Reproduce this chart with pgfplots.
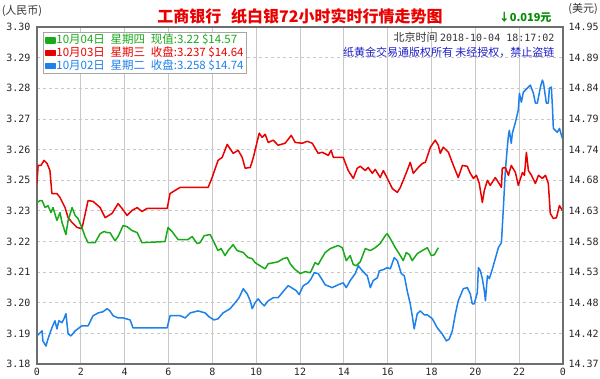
\documentclass[border=0pt]{standalone}
\usepackage{pgfplots}
\pgfplotsset{compat=1.18}
\usepackage{fontspec}
\setmainfont{Noto Sans CJK SC}
\newfontfamily\numfont{DejaVu Sans Mono}
\definecolor{lgreen}{RGB}{25,170,25}
\definecolor{lred}{RGB}{235,0,0}
\definecolor{lblue}{RGB}{30,128,235}
\definecolor{gridgray}{RGB}{200,200,200}
\definecolor{wmblue}{RGB}{30,30,200}
\definecolor{arrgreen}{RGB}{0,140,0}
\definecolor{axgray}{RGB}{110,110,110}
\begin{document}
\begin{tikzpicture}[x=1pt,y=1pt]
\useasboundingbox (0,0) rectangle (600,378);
\fill[white] (0,0) rectangle (600,378);
\begin{axis}[
  at={(37pt,14pt)}, anchor=south west,
  scale only axis, width=526pt, height=337pt,
  xmin=0, xmax=24, ymin=3.18, ymax=3.30,
  xtick={0,2,...,24},
  xticklabels={0,2,4,6,8,10,12,14,16,18,20,22,0},
  ytick={3.18,3.190909,3.201818,3.212727,3.223636,3.234545,3.245455,3.256364,3.267273,3.278182,3.289091,3.30},
  yticklabels={3.18,3.19,3.20,3.21,3.22,3.23,3.25,3.26,3.27,3.28,3.29,3.30},
  grid=major,
  x grid style={color=gridgray, line width=0.8pt},
  y grid style={color=gridgray, dash pattern=on 3pt off 3pt, line width=0.7pt},
  axis line style={color=axgray, line width=1.5pt},
  major tick length=0pt,
  tick style={draw=none},
  ticklabel style={font=\numfont\fontsize{10}{10}\selectfont, text=black!85},
  yticklabel style={xshift=-3pt},
  xticklabel style={yshift=-1pt},
  clip=true,
  reverse legend,
  legend cell align=left,
  legend style={at={(rel axis cs:0.0114,0.985)}, anchor=north west,
    draw=gray!70, fill=white, line width=0.6pt,
    font=\fontsize{11.5}{11.5}\selectfont,
    inner xsep=2pt, inner ysep=1.5pt,
    nodes={inner sep=0.6pt, text height=9pt, text depth=2.6pt},
    row sep=0pt},
  legend image code/.code={\fill (1pt,-2.5pt) rectangle (10pt,2.5pt);},
]
% blue: 10/02
\addplot[color=lblue, line width=1.5pt, line join=round] coordinates {
(0.00,3.1900)(0.14,3.1911)(0.23,3.1918)(0.27,3.1882)(0.41,3.1864)(0.50,3.1889)
(0.68,3.1929)(0.82,3.1954)(0.91,3.1925)(1.00,3.1954)(1.14,3.1947)(1.23,3.1961)
(1.32,3.1979)(1.42,3.1907)(1.55,3.1900)(1.74,3.1918)(2.05,3.1936)(2.33,3.1936)
(2.56,3.1972)(2.79,3.1982)(3.01,3.1986)(3.20,3.1997)(3.33,3.1989)(3.47,3.1972)
(3.70,3.1964)(3.93,3.1964)(4.25,3.1957)(4.38,3.1929)(5.94,3.1929)(6.07,3.1972)
(6.53,3.1972)(6.76,3.1964)(6.99,3.1982)(7.35,3.1989)(7.67,3.1982)(7.85,3.1968)
(8.08,3.1957)(8.26,3.1961)(8.49,3.1982)(8.81,3.1997)(9.04,3.2018)(9.22,3.2036)
(9.41,3.2068)(9.59,3.2050)(9.73,3.2025)(9.82,3.1997)(9.95,3.2018)(10.09,3.2032)
(10.23,3.2018)(10.37,3.2007)(10.55,3.2025)(10.78,3.2036)(11.00,3.2036)(11.19,3.2054)
(11.46,3.2079)(11.69,3.2068)(11.83,3.2061)(11.96,3.2047)(12.15,3.2079)(12.37,3.2089)
(12.51,3.2104)(12.65,3.2125)(12.83,3.2122)(13.01,3.2100)(13.15,3.2082)(13.47,3.2072)
(13.74,3.2082)(13.97,3.2089)(14.11,3.2072)(14.29,3.2097)(14.52,3.2122)(14.66,3.2150)
(14.84,3.2132)(15.07,3.2114)(15.21,3.2072)(15.34,3.2097)(15.53,3.2107)(15.62,3.2132)
(15.80,3.2136)(15.98,3.2143)(16.12,3.2139)(16.30,3.2179)(16.44,3.2168)(16.62,3.2122)
(16.76,3.2114)(16.89,3.2061)(17.03,3.2014)(17.12,3.1972)(17.21,3.1925)(17.35,3.1979)
(17.49,3.1989)(17.67,3.1975)(17.81,3.1975)(18.04,3.1961)(18.26,3.1929)(18.49,3.1907)
(18.68,3.1882)(18.81,3.1889)(18.95,3.1918)(19.09,3.1979)(19.22,3.2025)(19.45,3.2068)
(19.63,3.2072)(19.77,3.2050)(19.86,3.2014)(19.95,3.2014)(20.09,3.2054)(20.14,3.2143)
(20.23,3.2132)(20.32,3.2104)(20.41,3.2061)(20.46,3.2025)(20.55,3.2114)(20.64,3.2104)
(20.78,3.2139)(20.91,3.2175)(21.05,3.2214)(21.19,3.2232)(21.28,3.2357)(21.37,3.2489)
(21.46,3.2572)(21.51,3.2614)(21.55,3.2632)(21.64,3.2586)(21.69,3.2622)(21.83,3.2661)
(21.96,3.2704)(22.01,3.2764)(22.10,3.2732)(22.19,3.2768)(22.37,3.2782)(22.51,3.2793)
(22.65,3.2764)(22.74,3.2729)(22.83,3.2729)(22.97,3.2786)(23.06,3.2811)(23.11,3.2800)
(23.24,3.2729)(23.33,3.2729)(23.38,3.2782)(23.47,3.2786)(23.52,3.2711)(23.56,3.2639)
(23.74,3.2625)(23.84,3.2639)(23.93,3.2614)(24.00,3.2597)
};
\addlegendentry{\textcolor{lblue}{10月02日\enspace 星期二\enspace 收盘:3.258 \$14.74}}
% red: 10/03
\addplot[color=lred, line width=1.5pt, line join=round] coordinates {
(0.00,3.2443)(0.05,3.2507)(0.18,3.2507)(0.32,3.2525)(0.46,3.2514)(0.59,3.2489)
(0.68,3.2407)(0.91,3.2407)(1.05,3.2393)(1.28,3.2357)(1.42,3.2321)(1.60,3.2304)
(1.83,3.2286)(2.05,3.2282)(2.33,3.2382)(2.56,3.2379)(2.88,3.2357)(3.11,3.2321)
(3.42,3.2336)(3.70,3.2371)(3.88,3.2354)(4.11,3.2329)(4.34,3.2347)(4.57,3.2357)
(4.79,3.2343)(5.02,3.2354)(5.94,3.2354)(6.07,3.2407)(6.53,3.2429)(7.81,3.2429)
(7.99,3.2464)(8.26,3.2525)(8.45,3.2536)(8.68,3.2582)(8.95,3.2550)(9.18,3.2561)
(9.36,3.2536)(9.50,3.2497)(9.73,3.2500)(9.86,3.2532)(10.14,3.2622)(10.27,3.2607)
(10.41,3.2618)(10.55,3.2589)(10.78,3.2597)(11.00,3.2579)(11.32,3.2586)(11.60,3.2614)
(11.78,3.2589)(12.10,3.2586)(12.33,3.2593)(12.56,3.2586)(12.83,3.2550)(13.01,3.2554)
(13.29,3.2543)(13.42,3.2561)(13.52,3.2536)(13.97,3.2536)(14.20,3.2489)(14.43,3.2461)
(14.61,3.2497)(14.75,3.2504)(14.98,3.2489)(15.11,3.2500)(15.30,3.2479)(15.43,3.2493)
(15.66,3.2464)(15.80,3.2489)(16.03,3.2454)(16.21,3.2425)(16.44,3.2411)(16.58,3.2429)
(16.71,3.2454)(16.89,3.2489)(17.03,3.2518)(17.17,3.2479)(17.40,3.2500)(17.58,3.2514)
(17.72,3.2518)(17.95,3.2572)(18.17,3.2597)(18.31,3.2579)(18.40,3.2550)(18.54,3.2572)
(18.77,3.2554)(19.00,3.2507)(19.22,3.2464)(19.41,3.2507)(19.63,3.2504)(19.77,3.2479)
(19.91,3.2461)(20.05,3.2472)(20.18,3.2443)(20.32,3.2375)(20.41,3.2418)(20.55,3.2454)
(20.68,3.2436)(20.91,3.2464)(21.05,3.2447)(21.19,3.2429)(21.23,3.2497)(21.37,3.2500)
(21.51,3.2472)(21.64,3.2507)(21.83,3.2482)(21.96,3.2436)(22.15,3.2482)(22.24,3.2472)
(22.33,3.2554)(22.42,3.2489)(22.56,3.2472)(22.74,3.2443)(22.88,3.2472)(23.06,3.2461)
(23.20,3.2472)(23.33,3.2443)(23.42,3.2336)(23.56,3.2318)(23.70,3.2321)(23.84,3.2364)
(23.97,3.2347)
};
\addlegendentry{\textcolor{lred}{10月03日\enspace 星期三\enspace 收盘:3.237 \$14.64}}
% green: 10/04
\addplot[color=lgreen, line width=1.5pt, line join=round] coordinates {
(0.00,3.2375)(0.14,3.2382)(0.23,3.2382)(0.37,3.2357)(0.50,3.2364)(0.64,3.2339)
(0.73,3.2357)(0.91,3.2311)(1.05,3.2339)(1.14,3.2304)(1.32,3.2261)(1.42,3.2311)
(1.60,3.2357)(1.74,3.2329)(1.87,3.2318)(2.05,3.2286)(2.19,3.2254)(2.33,3.2232)
(2.65,3.2232)(2.88,3.2264)(3.06,3.2272)(3.20,3.2268)(3.33,3.2268)(3.47,3.2250)
(3.56,3.2239)(3.70,3.2254)(3.93,3.2293)(4.11,3.2289)(4.34,3.2275)(4.57,3.2268)
(4.79,3.2232)(5.84,3.2236)(5.98,3.2286)(6.16,3.2272)(6.30,3.2257)(6.44,3.2243)
(6.89,3.2243)(7.08,3.2254)(7.21,3.2239)(7.31,3.2229)(7.44,3.2232)(7.63,3.2257)
(7.90,3.2261)(8.04,3.2239)(8.26,3.2204)(8.40,3.2211)(8.58,3.2186)(8.72,3.2204)
(8.95,3.2225)(9.13,3.2204)(9.41,3.2197)(9.63,3.2179)(9.82,3.2175)(9.95,3.2161)
(10.09,3.2154)(10.23,3.2147)(10.41,3.2139)(10.55,3.2157)(10.82,3.2161)(11.00,3.2164)
(11.23,3.2175)(11.42,3.2179)(11.55,3.2157)(11.74,3.2139)(12.01,3.2122)(12.24,3.2129)
(12.47,3.2125)(12.69,3.2161)(12.83,3.2154)(13.01,3.2179)(13.15,3.2197)(13.38,3.2211)
(13.74,3.2222)(13.93,3.2214)(14.11,3.2168)(14.29,3.2186)(14.43,3.2154)(14.57,3.2150)
(14.75,3.2164)(14.98,3.2211)(15.21,3.2204)(15.43,3.2214)(15.66,3.2229)(15.89,3.2257)
(15.98,3.2264)(16.12,3.2246)(16.35,3.2214)(16.58,3.2186)(16.71,3.2168)(16.85,3.2197)
(16.99,3.2189)(17.12,3.2168)(17.35,3.2193)(17.58,3.2204)(17.81,3.2214)(17.99,3.2186)
(18.13,3.2189)(18.31,3.2214)
};
\addlegendentry{\textcolor{lgreen}{10月04日\enspace 星期四\enspace 现值:3.22 \$14.57}}
\end{axis}
% right-hand (USD) axis labels
\begin{axis}[
  at={(37pt,14pt)}, anchor=south west,
  scale only axis, width=526pt, height=337pt,
  xmin=0, xmax=24, ymin=3.18, ymax=3.30,
  hide x axis,
  axis y line*=right,
  y axis line style={color=axgray, line width=1.5pt},
  major tick length=0pt, tick style={draw=none},
  ytick={3.18,3.190909,3.201818,3.212727,3.223636,3.234545,3.245455,3.256364,3.267273,3.278182,3.289091,3.30},
  yticklabels={14.37,14.42,14.48,14.53,14.58,14.63,14.68,14.74,14.79,14.84,14.89,14.95},
  ticklabel style={font=\numfont\fontsize{10}{10}\selectfont, text=black!85},
  yticklabel style={xshift=2pt},
]
\end{axis}
% texts
\node[font=\fontsize{11}{11}\selectfont, text=black!80] at (22,367) {(人民币)};
\node[font=\fontsize{11}{11}\selectfont, text=black!80] at (583,369) {(美元)};
\node[font=\fontsize{16}{16}\selectfont\bfseries, text=lred] at (300,362) {工商银行\hspace{0.6em}纸白银72小时实时行情走势图};
\node[font=\fontsize{11}{11}\selectfont\bfseries, text=arrgreen, anchor=east] at (555,361) {↓0.019元};
\node[font=\fontsize{11}{11}\selectfont, text=black!80, anchor=east] at (558,341) {北京时间 {\numfont\fontsize{10}{10}\selectfont 2018-10-04 18:17:02}};
\node[font=\fontsize{11}{11}\selectfont, text=wmblue, anchor=east] at (558,326) {纸黄金交易通版权所有 未经授权，禁止盗链};
\end{tikzpicture}
\end{document}
